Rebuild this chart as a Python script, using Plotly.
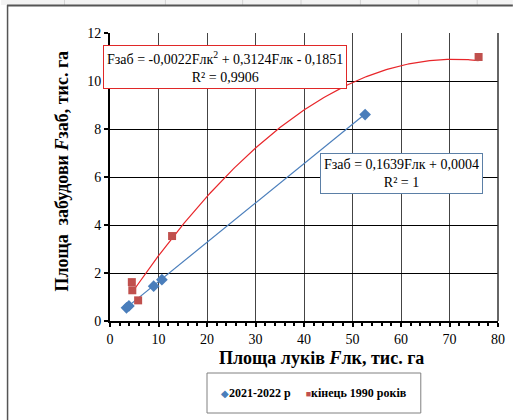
import numpy as np
import plotly.graph_objects as go

# Meadow area (thousand ha) vs built-up area (thousand ha)
x_2021 = [3.4, 3.9, 9.0, 10.7, 52.6]
y_2021 = [0.55, 0.63, 1.45, 1.72, 8.6]
x_1990 = [4.5, 4.6, 5.8, 12.8, 76.0]
y_1990 = [1.62, 1.28, 0.86, 3.54, 11.0]

# Trendline coefficients
lin_k, lin_b = 0.1639, 0.0004
quad_a, quad_b, quad_c = -0.0022, 0.3124, -0.1851

name_2021 = "2021-2022 р"
name_1990 = "кінець 1990 років"
eq_lin = "Fзаб = 0,1639Fлк + 0,0004<br>R² = 1"
eq_quad = "Fзаб = -0,0022Fлк<sup>2</sup> + 0,3124Fлк - 0,1851<br>R² = 0,9906"

BLUE = "#4a7ebb"
RED = "#c0504d"
SERIF = "Liberation Serif"

W, H = 517, 420
L, R, T, B = 110, 15, 33, 99
PW, PH = W - L - R, H - T - B


def px(xp):
    return (xp - L) / PW


def py(yp):
    return (H - B - yp) / PH


fig = go.Figure()

# trendlines
xl = np.linspace(min(x_2021), max(x_2021), 50)
fig.add_trace(go.Scatter(x=xl, y=lin_k * xl + lin_b, mode="lines",
                         line=dict(color=BLUE, width=1.2), showlegend=False,
                         hoverinfo="skip"))
xq = np.linspace(min(x_1990), max(x_1990), 200)
fig.add_trace(go.Scatter(x=xq, y=quad_a * xq ** 2 + quad_b * xq + quad_c, mode="lines",
                         line=dict(color="#e8262a", width=1.2), showlegend=False,
                         hoverinfo="skip"))

# data points
fig.add_trace(go.Scatter(x=x_2021, y=y_2021, mode="markers", name=name_2021,
                         marker=dict(symbol="diamond", size=9, color=BLUE),
                         showlegend=False))
fig.add_trace(go.Scatter(x=x_1990, y=y_1990, mode="markers", name=name_1990,
                         marker=dict(symbol="square", size=8, color=RED),
                         showlegend=False))

shapes = []
# spreadsheet strip and chart frame around the figure
shapes.append(dict(type="rect", xref="paper", yref="paper",
                   x0=px(0), x1=px(W), y0=py(0), y1=py(5),
                   fillcolor="#f3f3f3", line=dict(width=0), layer="below"))
for cx in [64, 166, 244, 303, 363, 422, 481]:
    shapes.append(dict(type="line", xref="paper", yref="paper",
                       x0=px(cx), x1=px(cx), y0=py(0), y1=py(5),
                       line=dict(color="#d4d4d4", width=1)))
shapes.append(dict(type="line", xref="paper", yref="paper",
                   x0=px(6), x1=px(W), y0=py(5.5), y1=py(5.5),
                   line=dict(color="#555555", width=2)))
shapes.append(dict(type="line", xref="paper", yref="paper",
                   x0=px(6.5), x1=px(6.5), y0=py(5), y1=py(H),
                   line=dict(color="#555555", width=1.5)))
# legend frame
shapes.append(dict(type="rect", xref="paper", yref="paper",
                   x0=px(208), x1=px(424), y0=py(373), y1=py(413),
                   line=dict(color="#808080", width=1), fillcolor="white", layer="below"))
# thin right border of the plot area
shapes.append(dict(type="line", xref="paper", yref="paper", x0=1, x1=1, y0=0, y1=1,
                   line=dict(color="#333333", width=1.5)))

legend_text = (f"<span style='color:{BLUE};font-size:10px'>◆</span>"
               f"<b>{name_2021}</b>     "
               f"<span style='color:{RED};font-size:9px'>■</span>"
               f"<b>{name_1990}</b>")

annotations = [
    dict(text=eq_quad, xref="paper", yref="paper", x=px(226.5), y=py(66.5),
         xanchor="center", yanchor="middle", showarrow=False, align="center",
         font=dict(family=SERIF, size=14, color="black"),
         bgcolor="white", bordercolor="#e02828", borderwidth=1, borderpad=3),
    dict(text=eq_lin, xref="paper", yref="paper", x=px(404), y=py(173),
         xanchor="center", yanchor="middle", showarrow=False, align="center",
         font=dict(family=SERIF, size=14, color="black"),
         bgcolor="white", bordercolor="#5b7fa6", borderwidth=1, borderpad=3),
    dict(text="<b>Площа луків <i>F</i>лк, тис. га</b>", xref="paper", yref="paper",
         x=px(324), y=py(358), xanchor="center", yanchor="middle", showarrow=False,
         font=dict(family=SERIF, size=18, color="black")),
    dict(text="<b>Площа  забудови <i>F</i>заб, тис. га</b>", xref="paper", yref="paper",
         x=px(62), y=py(171), xanchor="center", yanchor="middle", showarrow=False,
         textangle=-90, font=dict(family=SERIF, size=18, color="black")),
    dict(text=legend_text, xref="paper", yref="paper", x=px(316), y=py(393),
         xanchor="center", yanchor="middle", showarrow=False,
         font=dict(family=SERIF, size=12, color="black")),
]

fig.update_layout(
    width=W, height=H,
    margin=dict(l=L, r=R, t=T, b=B),
    paper_bgcolor="white", plot_bgcolor="white",
    font=dict(family=SERIF, size=14, color="black"),
    shapes=shapes, annotations=annotations,
    showlegend=False,
    hovermode=False,
)

fig.update_xaxes(range=[0, 80], dtick=10, tick0=0, showgrid=True, gridcolor="#444444",
                 gridwidth=1, zeroline=False, showline=True, linecolor="black",
                 linewidth=2, ticks="outside", ticklen=4, tickwidth=2,
                 tickcolor="black", minor=dict(dtick=2, ticks="outside", ticklen=3,
                                               tickwidth=2, tickcolor="black"),
                 tickfont=dict(family=SERIF, size=14, color="black"), fixedrange=True)
fig.update_yaxes(range=[0, 12], dtick=2, tick0=0, showgrid=True, gridcolor="black",
                 gridwidth=1, zeroline=False, showline=True, linecolor="black",
                 linewidth=2, ticks="outside", ticklen=4, tickwidth=2, tickcolor="black",
                 tickfont=dict(family=SERIF, size=14, color="black"), fixedrange=True)

fig.write_html("out.html")
